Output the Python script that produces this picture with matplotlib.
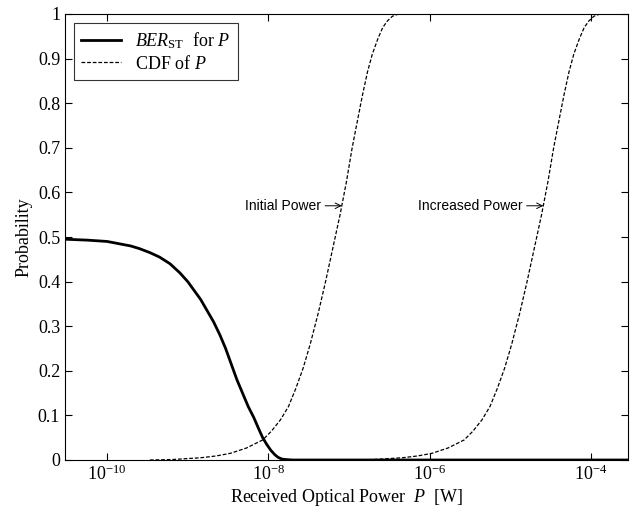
import numpy as np
import matplotlib
matplotlib.use('Agg')
import matplotlib.pyplot as plt

plt.rcParams['font.family'] = 'Liberation Serif'
plt.rcParams['mathtext.fontset'] = 'custom'
plt.rcParams['mathtext.rm'] = 'Liberation Serif'
plt.rcParams['mathtext.it'] = 'Liberation Serif:italic'

# BER_ST curve (log10 of P in W, probability)
ber_logp = [-10.52, -10.25, -10.0, -9.71, -9.6, -9.47, -9.35, -9.22, -9.1,
            -9.0, -8.92, -8.84, -8.76, -8.68, -8.6, -8.53, -8.46, -8.39,
            -8.32, -8.25, -8.18, -8.12, -8.07, -8.02, -7.97, -7.92, -7.88,
            -7.83, -7.78, -7.70, -3.5]
ber_prob = [0.495, 0.493, 0.49, 0.48, 0.474, 0.465, 0.455, 0.44, 0.42,
            0.40, 0.38, 0.36, 0.335, 0.31, 0.28, 0.25, 0.215, 0.18,
            0.15, 0.12, 0.095, 0.07, 0.05, 0.035, 0.022, 0.012, 0.006,
            0.002, 0.001, 0.0, 0.0]

# CDF of P, initial power
cdf1_logp = [-9.47, -9.2, -8.84, -8.65, -8.47, -8.27, -8.07, -7.96, -7.85,
             -7.75, -7.66, -7.57, -7.48, -7.38, -7.29, -7.20, -7.11, -7.03,
             -6.96, -6.89, -6.83, -6.77, -6.71, -6.64, -6.58, -6.52, -6.46,
             -6.40, -6.34, -3.5]
cdf1_prob = [0.0, 0.001, 0.005, 0.009, 0.015, 0.027, 0.045, 0.065, 0.09,
             0.12, 0.16, 0.205, 0.26, 0.33, 0.40, 0.475, 0.55, 0.625,
             0.70, 0.765, 0.82, 0.87, 0.91, 0.945, 0.97, 0.985, 0.995,
             0.999, 1.0, 1.0]

# CDF of P, increased power
cdf2_logp = [-6.97, -6.7, -6.34, -6.15, -5.97, -5.77, -5.57, -5.46, -5.35,
             -5.25, -5.16, -5.07, -4.98, -4.88, -4.79, -4.70, -4.61, -4.53,
             -4.46, -4.39, -4.33, -4.27, -4.21, -4.14, -4.08, -4.02, -3.96,
             -3.90, -3.84, -3.5]
cdf2_prob = [0.0, 0.001, 0.005, 0.009, 0.015, 0.027, 0.045, 0.065, 0.09,
             0.12, 0.16, 0.205, 0.26, 0.33, 0.40, 0.475, 0.55, 0.625,
             0.70, 0.765, 0.82, 0.87, 0.91, 0.945, 0.97, 0.985, 0.995,
             0.999, 1.0, 1.0]

x_ticks = [1e-10, 1e-8, 1e-6, 1e-4]
x_ticklabels = [r'$10^{-10}$', r'$10^{-8}$', r'$10^{-6}$', r'$10^{-4}$']
y_ticks = [0, 0.1, 0.2, 0.3, 0.4, 0.5, 0.6, 0.7, 0.8, 0.9, 1]
y_ticklabels = ['0', '0.1', '0.2', '0.3', '0.4', '0.5', '0.6', '0.7', '0.8', '0.9', '1']
arrow_prob = 0.57

fig = plt.figure(figsize=(6.33, 5.14), dpi=100)
ax = fig.add_axes([65 / 633, 54 / 514, 563 / 633, 446 / 514])

ax.plot(10 ** np.array(ber_logp), ber_prob, color='black', lw=2.0,
        label=r'$\mathit{BER}_{\mathrm{ST}}$  for $\mathit{P}$')
ax.plot(10 ** np.array(cdf1_logp), cdf1_prob, color='black', lw=0.9,
        dashes=(3, 1.5), label=r'CDF of $\mathit{P}$')
ax.plot(10 ** np.array(cdf2_logp), cdf2_prob, color='black', lw=0.9,
        dashes=(3, 1.5))

ax.set_xscale('log')
ax.set_xlim(3e-11, 2.9e-4)
ax.set_ylim(0, 1)
ax.set_xticks(x_ticks)
ax.set_xticklabels(x_ticklabels)
ax.minorticks_off()
ax.set_yticks(y_ticks)
ax.set_yticklabels(y_ticklabels)
ax.tick_params(direction='in', top=True, right=True, labelsize=13, length=5)

ax.set_xlabel(r'Received Optical Power  $\mathit{P}$  [W]', fontsize=13, labelpad=2)
ax.set_ylabel('Probability', fontsize=13, labelpad=4)

# arrows pointing onto the CDF curves at the same probability
for logp, prob, txt in [(cdf1_logp, cdf1_prob, 'Initial Power'),
                        (cdf2_logp, cdf2_prob, 'Increased Power')]:
    xa = 10 ** np.interp(arrow_prob, prob[:-1], logp[:-1])
    ax.annotate(txt, xy=(xa, arrow_prob), xytext=(-15, 0),
                textcoords='offset points', ha='right', va='center',
                fontsize=10, family='Liberation Sans',
                arrowprops=dict(arrowstyle='->', lw=0.7, color='black',
                                shrinkA=1, shrinkB=0))

leg = ax.legend(loc='upper left', fontsize=13, frameon=True, fancybox=False,
                edgecolor='black', handlelength=2.2, borderaxespad=0.5,
                labelspacing=0.2)
leg.get_frame().set_linewidth(0.8)

fig.savefig('out.png', dpi=100)
